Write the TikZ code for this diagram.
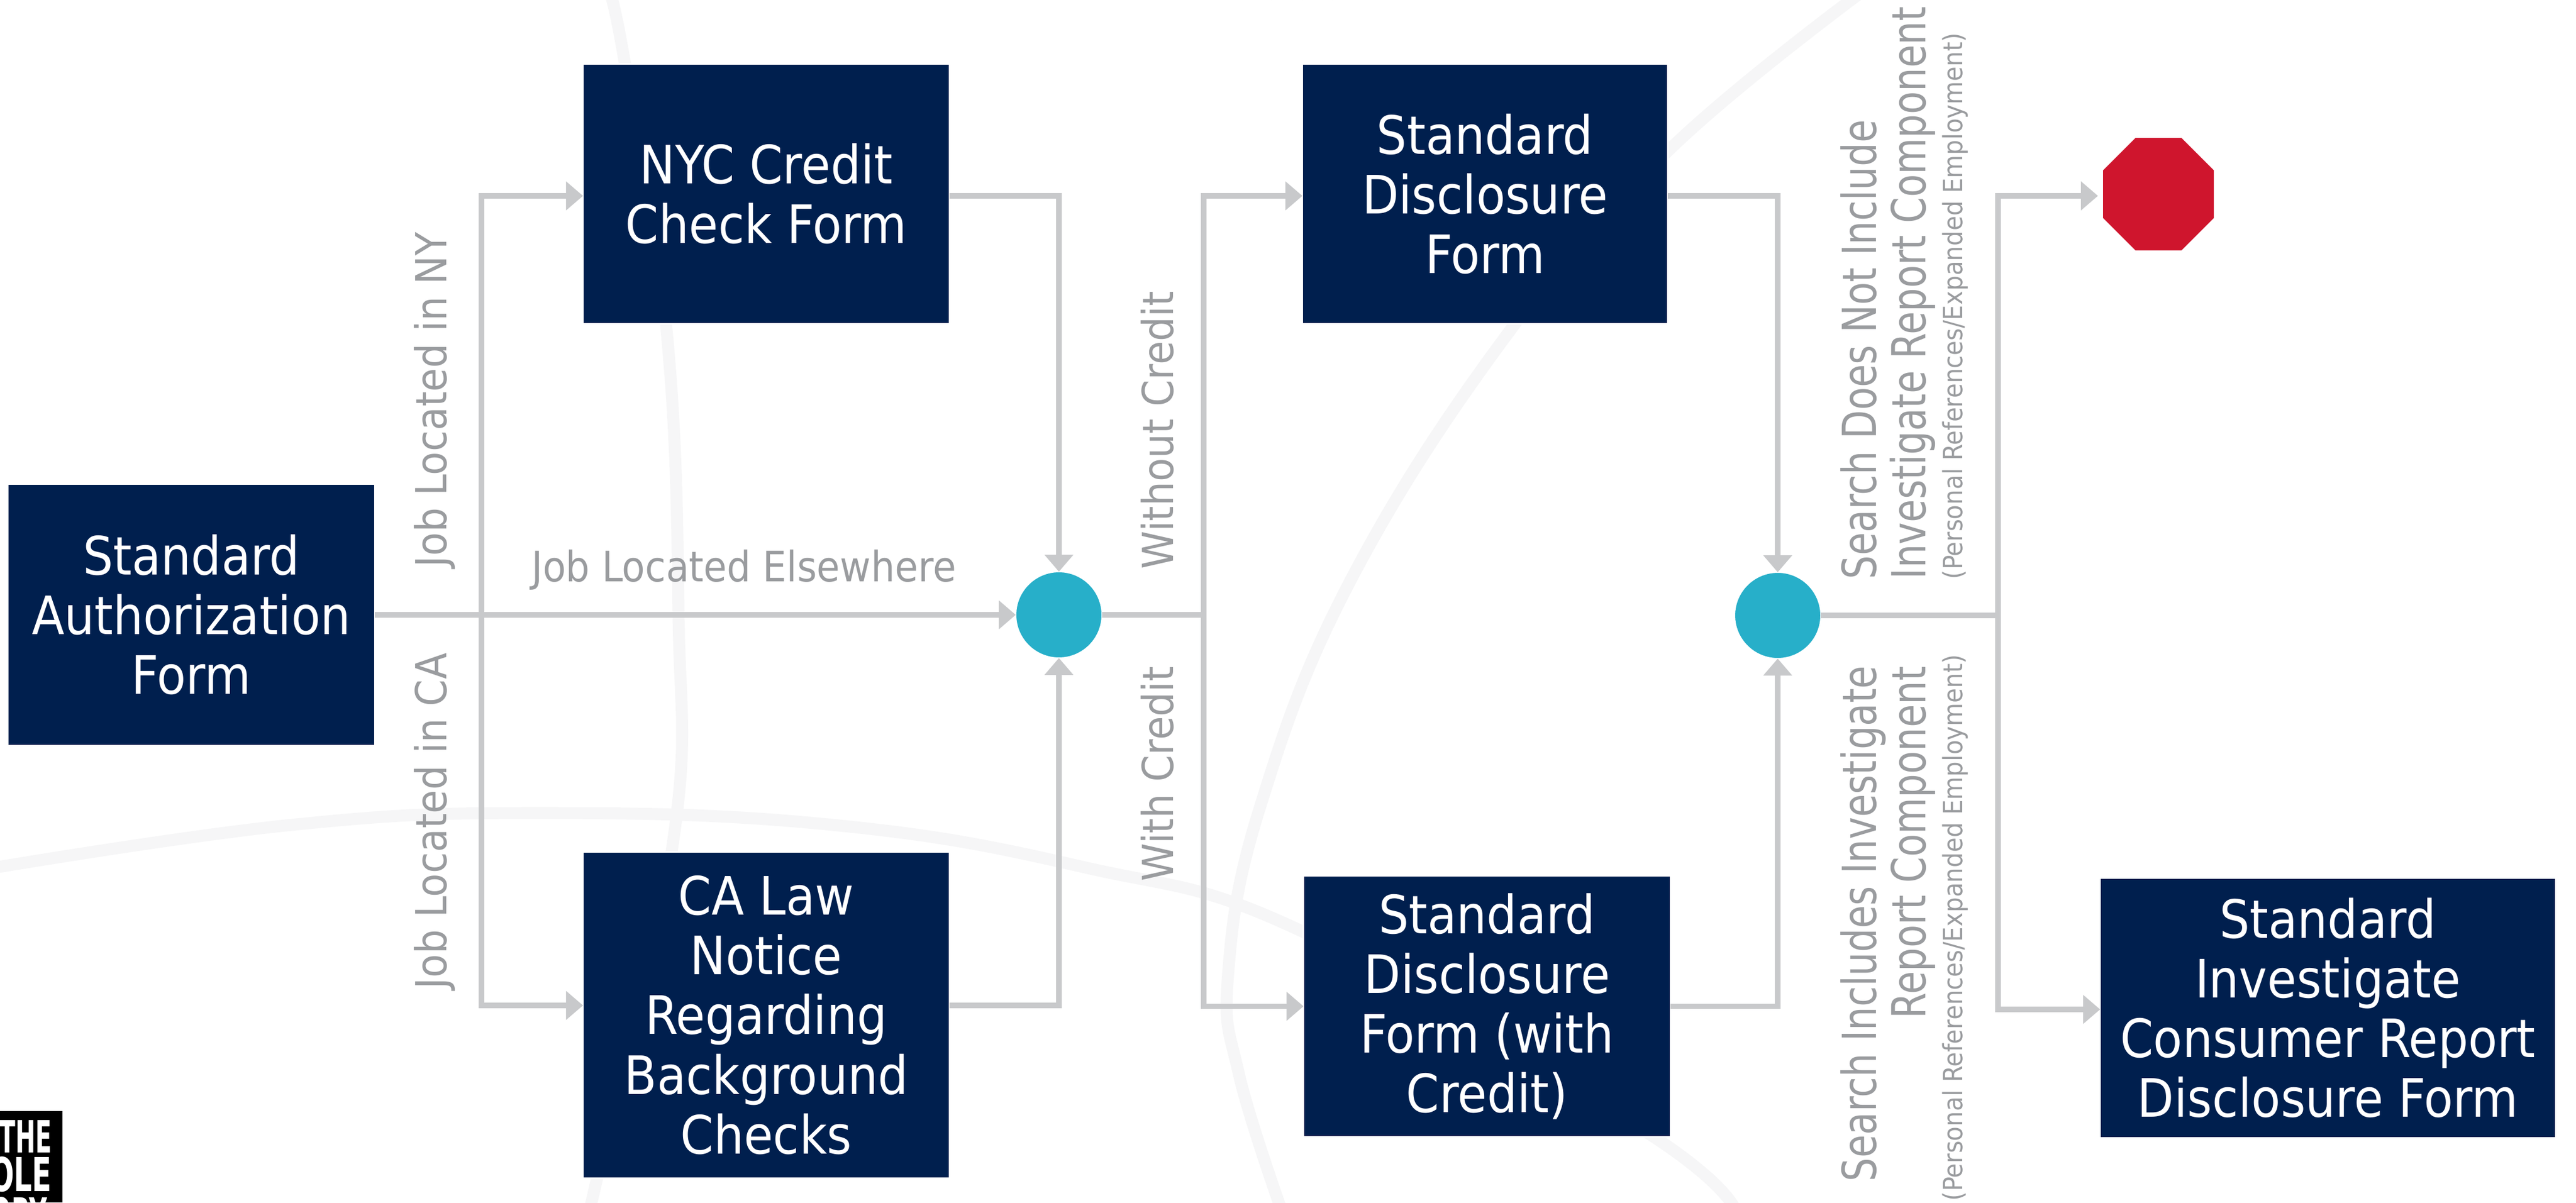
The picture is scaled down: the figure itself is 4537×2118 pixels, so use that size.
\documentclass[tikz,border=0pt]{standalone}
\usepackage{fontspec}
\usepackage{graphicx}
\setmainfont{DejaVu Sans Condensed}
\usetikzlibrary{arrows.meta,calc}
\definecolor{navybox}{HTML}{001F4E}
\definecolor{tealdot}{HTML}{27AFC9}
\definecolor{stopred}{HTML}{CF152D}
\definecolor{linegrey}{HTML}{C8C9CB}
\definecolor{labelgrey}{HTML}{9A9C9F}
\definecolor{bgcurve}{HTML}{F6F6F7}
\definecolor{dotgrey}{HTML}{D9D9D9}
\newcommand{\tightlabel}[1]{\scalebox{0.885}[1]{#1}}
\tikzset{
  formbox/.style={rectangle,fill=navybox,draw=white,line width=0.8pt,inner sep=0pt,outer sep=0pt,align=center,text=white,font=\fontsize{26.5}{29.9}\selectfont},
  joindot/.style={circle,fill=tealdot,draw=white,line width=0.6pt,minimum size=152*0.2845pt,inner sep=0pt,outer sep=0pt},
  conn/.style={draw=linegrey,line width=2.8pt},
  arrowconn/.style={conn,-{Triangle[length=8.5pt,width=14pt]}},
  bgarc/.style={draw=bgcurve,line width=6pt},
  vlabel/.style={text=labelgrey,rotate=90,inner sep=0pt,font=\fontsize{21.4}{24}\selectfont},
  vbig/.style={text=labelgrey,rotate=90,inner sep=0pt,font=\fontsize{23.5}{27}\selectfont},
  vsmall/.style={text=labelgrey,rotate=90,inner sep=0pt,font=\fontsize{13.3}{15}\selectfont},
}
\begin{document}
\begin{tikzpicture}[x=0.01cm,y=-0.01cm]
\clip (0,0) rectangle (4537,2118);
\fill[white] (0,0) rectangle (4537,2118);
% faint background arcs
\draw[bgarc] plot[smooth,tension=0.7] coordinates {(1072,-20) (1100,108) (1173,571) (1195,1081) (1185,1486) (1051,2078) (1035,2140)};
\draw[bgarc] plot[smooth,tension=0.7] coordinates {(-20,1530) (513,1453) (953,1432) (1467,1453) (1907,1527) (2303,1645) (2909,2000) (3060,2140)};
\draw[bgarc] plot[smooth,tension=0.7] coordinates {(3280,-15) (2947,257) (2670,568) (2383,1014) (2220,1419) (2163,1716) (2182,1892) (2260,2140)};
% dots at top edge
\fill[dotgrey] (2240,1) circle (0.15);
\fill[dotgrey] (2294,1) circle (0.15);
\fill[dotgrey] (2347,1) circle (0.15);
% nodes
\node[formbox,minimum width=646*0.2845pt,minimum height=460*0.2845pt] (auth) at (337,1083) {Standard\\Authorization\\Form};
\node[formbox,minimum width=645*0.2845pt,minimum height=457*0.2845pt] (nyc) at (1349.5,341.5) {NYC Credit\\Check Form};
\node[formbox,minimum width=645*0.2845pt,minimum height=574*0.2845pt] (ca) at (1349.5,1788) {CA Law\\Notice\\Regarding\\Background\\Checks};
\node[formbox,minimum width=643*0.2845pt,minimum height=457*0.2845pt] (disc) at (2615.5,341.5) {Standard\\Disclosure\\Form};
\node[formbox,minimum width=646*0.2845pt,minimum height=459*0.2845pt] (disccr) at (2619,1772.5) {Standard\\Disclosure\\Form (with\\Credit)};
\node[formbox,minimum width=802*0.2845pt,minimum height=457*0.2845pt] (inv) at (4100,1775.5) {Standard\\Investigate\\Consumer Report\\Disclosure Form};
\node[joindot] (ca1) at (1865,1083) {};
\node[joindot] (ca2) at (3131,1084) {};
\node[inner sep=0pt,outer sep=0pt,minimum size=0pt] (stop) at (3801.5,342) {};
\fill[stopred] (3704,300) -- (3761,243) -- (3842,243) -- (3899,300) -- (3899,384) -- (3842,441) -- (3761,441) -- (3704,384) -- cycle;
\coordinate (stopin) at (3695,345);
\coordinate (j1) at (848,1083);
\coordinate (j2) at (2120,1083);
\coordinate (j3) at (3519,1084);
% connectors
\draw[arrowconn] (auth.east) -- (ca1.west);
\draw[arrowconn] (j1) |- ([yshift=-1pt]nyc.west);
\draw[arrowconn] (j1) |- ([yshift=4.84pt]ca.west);
\draw[arrowconn] ([yshift=-1pt]nyc.east) -| (ca1.north);
\draw[arrowconn] ([yshift=4.84pt]ca.east) -| (ca1.south);
\draw[conn] (ca1.east) -- (j2);
\draw[arrowconn] (j2) |- ([yshift=-1pt]disc.west);
\draw[arrowconn] (j2) |- (disccr.west);
\draw[arrowconn] ([yshift=-1pt]disc.east) -| (ca2.north);
\draw[arrowconn] (disccr.east) -| (ca2.south);
\draw[conn] (ca2.east) -- (j3);
\draw[arrowconn] (j3) |- (stopin);
\draw[arrowconn] (j3) |- ([yshift=-0.7pt]inv.west);
% labels
\node[vlabel,anchor=base west] (l1) at (786,1000) {Job Located in NY};
\node[vlabel,anchor=base west] (l2) at (786,1743) {Job Located in CA};
\node[text=labelgrey,inner sep=0pt,anchor=base west,font=\fontsize{21}{24}\selectfont] (l3) at (936,1024) {Job Located Elsewhere};
\node[vlabel,anchor=base west] (l4) at (2066,1003) {Without Credit};
\node[vlabel,anchor=base west] (l5) at (2066,1553) {With Credit};
\node[vbig,anchor=base west] (l6) at (3304,1021) {\tightlabel{Search Does Not Include}};
\node[vbig,anchor=base west] (l7) at (3391,1021) {\tightlabel{Investigate Report Component}};
\node[vsmall,anchor=base west] (l8) at (3456,1021) {(Personal References/Expanded Employment)};
\node[vbig,anchor=base west] (l9) at (3304,2082) {\tightlabel{Search Includes Investigate}};
\node[vbig,anchor=base east] (l10) at (3391,1173) {\tightlabel{Report Component}};
\node[vsmall,anchor=base west] (l11) at (3456,2116) {(Personal References/Expanded Employment)};
% logo
\fill[black] (0,1957) rectangle (110,2118);
\node[inner sep=0pt,anchor=north east,text=white] (lg1) at (92,1973) {\resizebox{93\dimexpr0.2845pt\relax}{57\dimexpr0.2845pt\relax}{\bfseries THE}};
\node[inner sep=0pt,anchor=north east,text=white] (lg2) at (92,2037) {\resizebox{109\dimexpr0.2845pt\relax}{61\dimexpr0.2845pt\relax}{\bfseries OLE}};
\node[inner sep=0pt,anchor=north east,text=white] (lg3) at (84,2108) {\resizebox{100\dimexpr0.2845pt\relax}{60\dimexpr0.2845pt\relax}{\bfseries ORY}};
\end{tikzpicture}
\end{document}
